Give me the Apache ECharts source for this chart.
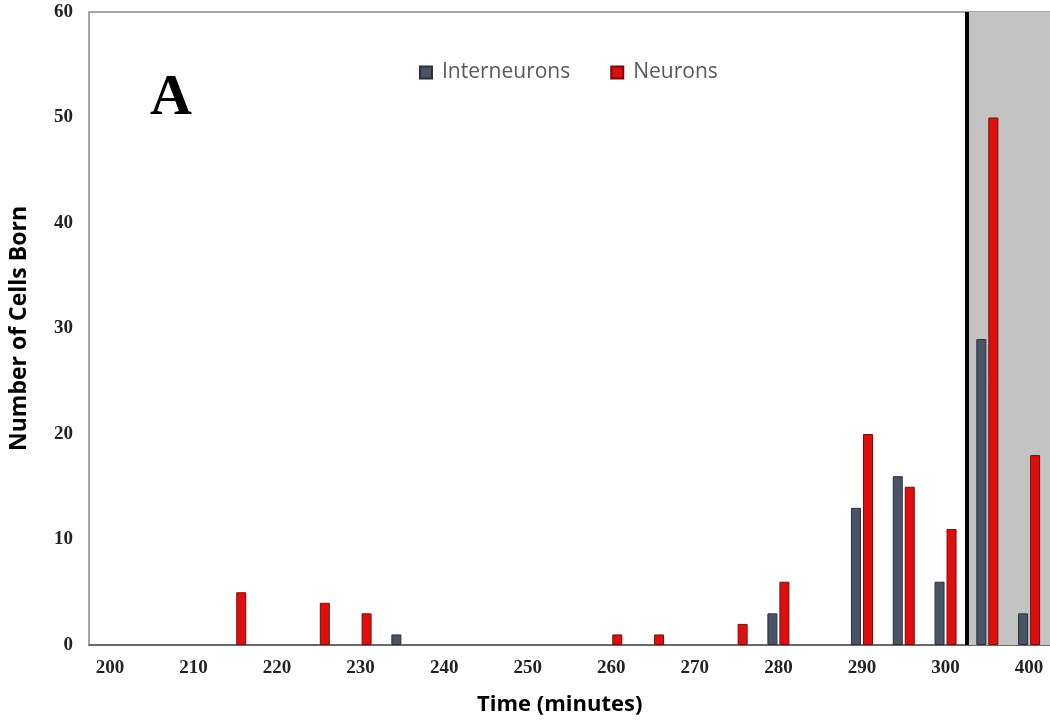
<!DOCTYPE html>
<html>
<head>
<meta charset="utf-8">
<script src="https://cdn.jsdelivr.net/npm/echarts@6/dist/echarts.min.js"></script>
<style>
  html, body { margin: 0; padding: 0; background: #fff; }
  #main { width: 1050px; height: 728px; }
</style>
</head>
<body>
<div id="main"></div>
<script>
// time bins (5 min), every other one labelled
const times = ['200', '205', '210', '215', '220', '225', '230', '235', '240', '245', '250',
    '255', '260', '265', '270', '275', '280', '285', '290', '295', '300', '350', '400'];
const interneurons = [0, 0, 0, 0, 0, 0, 0, 1, 0, 0, 0,
    0, 0, 0, 0, 0, 3, 0, 13, 16, 6, 29, 3];
const neurons = [0, 0, 0, 5, 0, 4, 3, 0, 0, 0, 0,
    0, 1, 1, 0, 2, 6, 0, 20, 15, 11, 50, 18];
const shadeFrom = 21;   // position of the black divider, in bin units
const shadeTo = 23;

// empty bins draw nothing (no outline)
function bars(arr) {
    return arr.map(v => v === 0 ? '-' : v);
}

var myChart = echarts.init(document.getElementById('main'));

option = {
    animation: false,
    backgroundColor: '#fff',
    grid: {
        left: 86,
        top: 12,
        width: 968,
        height: 633,
        show: true,
        borderColor: '#8a8a8a',
        borderWidth: 1.5
    },
    legend: {
        top: 57,
        left: 414,
        itemWidth: 12,
        itemHeight: 12,
        itemGap: 40,
        icon: 'rect',
        data: ['Interneurons', 'Neurons'],
        textStyle: {
            fontFamily: 'Open Sans',
            fontSize: 21,
            color: '#595959',
            padding: [0, 0, 0, 5]
        }
    },
    graphic: [
        {
            type: 'text',
            left: 150,
            top: 70,
            style: {
                text: 'A',
                font: 'bold 58px "Liberation Serif"',
                fill: '#000'
            }
        },
        {
            type: 'text',
            left: 477,
            top: 694,
            style: {
                text: 'Time (minutes)',
                font: 'bold 22px "Open Sans"',
                fill: '#000'
            }
        }
    ],
    xAxis: [
        {
            type: 'category',
            data: times,
            axisTick: { show: false },
            axisLine: { lineStyle: { color: '#555', width: 1.5 } },
            axisLabel: {
                interval: 1,
                margin: 14,
                fontFamily: 'Liberation Serif',
                fontWeight: 'bold',
                fontSize: 19,
                color: '#222'
            }
        },
        {
            type: 'value',
            min: 0,
            max: shadeTo,
            show: false
        }
    ],
    yAxis: {
        type: 'value',
        min: 0,
        max: 60,
        interval: 10,
        name: 'Number of Cells Born',
        nameLocation: 'middle',
        nameGap: 58,
        nameTextStyle: {
            fontFamily: 'Open Sans',
            fontWeight: 'bold',
            fontSize: 23,
            color: '#000'
        },
        splitLine: { show: false },
        axisLine: { show: false },
        axisTick: { show: false },
        axisLabel: {
            margin: 16,
            fontFamily: 'Liberation Serif',
            fontWeight: 'bold',
            fontSize: 19,
            color: '#222'
        }
    },
    series: [
        {
            name: 'shade',
            type: 'line',
            xAxisIndex: 1,
            data: [],
            z: 1,
            silent: true,
            markArea: {
                silent: true,
                itemStyle: { color: '#c3c3c3' },
                data: [[{ xAxis: shadeFrom }, { xAxis: shadeTo }]]
            },
            markLine: {
                silent: true,
                symbol: 'none',
                label: { show: false },
                lineStyle: { color: '#000', width: 4, type: 'solid' },
                data: [{ xAxis: shadeFrom }]
            }
        },
        {
            name: 'Interneurons',
            type: 'bar',
            z: 3,
            barWidth: 10,
            barGap: '20%',
            data: bars(interneurons),
            itemStyle: {
                color: '#4a5467',
                borderColor: '#2a2f3a',
                borderWidth: 1
            }
        },
        {
            name: 'Neurons',
            type: 'bar',
            z: 3,
            barWidth: 10,
            barGap: '20%',
            data: bars(neurons),
            itemStyle: {
                color: '#e00f0f',
                borderColor: '#7a0a0a',
                borderWidth: 1
            }
        }
    ]
};

myChart.setOption(option);
</script>
</body>
</html>
